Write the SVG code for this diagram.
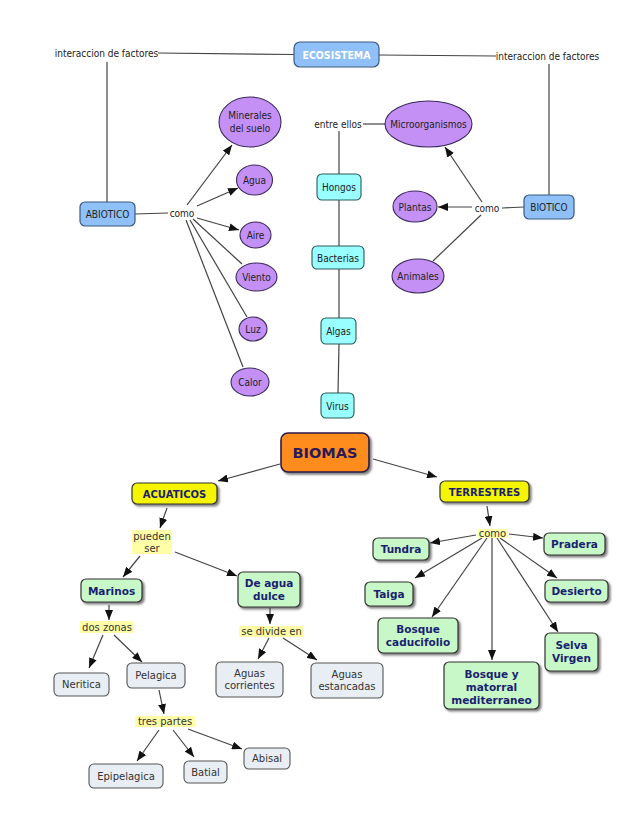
<svg xmlns="http://www.w3.org/2000/svg" width="638" height="826" viewBox="0 0 638 826">
<style>
.t{font-family:"DejaVu Sans Condensed","DejaVu Sans",sans-serif;font-size:10px;fill:#222;text-anchor:middle}
.tw{font-family:"DejaVu Sans Condensed","DejaVu Sans",sans-serif;font-size:10.5px;font-weight:bold;fill:#fff;text-anchor:middle}
.b{font-family:"DejaVu Sans",sans-serif;font-size:10.5px;font-weight:bold;fill:#1a1f70;text-anchor:middle}
.n{font-family:"DejaVu Sans",sans-serif;font-size:10px;fill:#333;text-anchor:middle}
.blue{fill:#8fc0f8;stroke:#3a5a80;stroke-width:1.2}
.pur{fill:#c490f5;stroke:#3a2a5a;stroke-width:1.1}
.cyan{fill:#99ffff;stroke:#2a5a5a;stroke-width:1.1}
.org{fill:#ff8c1a;stroke:#2a1a4a;stroke-width:1.6}
.yel{fill:#f5f500;stroke:#333;stroke-width:1.2}
.grn{fill:#c8f7c8;stroke:#333;stroke-width:1.2}
.gry{fill:#e8eef4;stroke:#555;stroke-width:1.1}
.hl{fill:#ffffa8}
.c line{stroke:#444;stroke-width:1.2;fill:none}
.c line.a{marker-end:url(#ah)}
</style>
<defs>
<marker id="ah" markerWidth="10" markerHeight="8" refX="10" refY="4" orient="auto" markerUnits="userSpaceOnUse">
<path d="M0,0 L10,4 L0,8 z" fill="#111"/>
</marker>
<filter id="sh" x="-10%" y="-10%" width="130%" height="140%">
<feDropShadow dx="2" dy="2" stdDeviation="0.8" flood-color="#444" flood-opacity="0.7"/>
</filter>
</defs>
<rect width="638" height="826" fill="#fff"/>

<g class="c" id="connectors">
<line x1="158" y1="53" x2="294" y2="54.5"/>
<line x1="379" y1="55" x2="496" y2="56"/>
<line x1="107" y1="62" x2="107" y2="202"/>
<line x1="549" y1="64" x2="549" y2="195"/>
<line x1="135" y1="214" x2="168" y2="213"/>
<line class="a" x1="187" y1="205" x2="232" y2="145"/>
<line class="a" x1="197" y1="206" x2="238" y2="188"/>
<line class="a" x1="197" y1="218" x2="239" y2="230"/>
<line x1="193" y1="219" x2="242" y2="264"/>
<line x1="190" y1="220" x2="247" y2="317"/>
<line x1="186" y1="220" x2="243" y2="367"/>
<line x1="524" y1="207" x2="502" y2="208"/>
<line class="a" x1="472" y1="207" x2="438" y2="207"/>
<line class="a" x1="482" y1="202" x2="445" y2="147"/>
<line x1="481" y1="215" x2="433" y2="261"/>
<line x1="363" y1="124" x2="385" y2="124"/>
<line x1="339" y1="131" x2="339" y2="174"/>
<line x1="339" y1="200" x2="339" y2="246"/>
<line x1="339" y1="269" x2="339" y2="318"/>
<line x1="339" y1="344" x2="338" y2="393"/>

<line class="a" x1="280" y1="464" x2="218" y2="481"/>
<line class="a" x1="373" y1="459" x2="437" y2="477"/>
<line class="a" x1="167" y1="508" x2="160" y2="528"/>
<line class="a" x1="487" y1="506" x2="490" y2="526"/>
<line class="a" x1="140" y1="556" x2="123" y2="577"/>
<line class="a" x1="175" y1="552" x2="237" y2="576"/>
<line class="a" x1="109" y1="605" x2="109" y2="620"/>
<line class="a" x1="270" y1="608" x2="270" y2="624"/>
<line class="a" x1="103" y1="635" x2="89" y2="668"/>
<line class="a" x1="114" y1="635" x2="142" y2="662"/>
<line class="a" x1="269" y1="638" x2="258" y2="659"/>
<line class="a" x1="283" y1="638" x2="317" y2="660"/>
<line class="a" x1="159" y1="690" x2="164" y2="714"/>
<line class="a" x1="159" y1="730" x2="137" y2="761"/>
<line class="a" x1="173" y1="730" x2="194" y2="757"/>
<line class="a" x1="188" y1="729" x2="242" y2="749"/>
<line class="a" x1="476" y1="535" x2="430" y2="543"/>
<line class="a" x1="509" y1="534" x2="543" y2="538"/>
<line class="a" x1="482" y1="538" x2="415" y2="578"/>
<line class="a" x1="500" y1="538" x2="557" y2="578"/>
<line class="a" x1="487" y1="538" x2="432" y2="617"/>
<line class="a" x1="497" y1="538" x2="558" y2="632"/>
<line class="a" x1="492" y1="538" x2="492" y2="660"/>
</g>

<g id="lbl-interaccion-left"><text class="t" x="106.5" y="57">interaccion de factores</text></g>
<g id="lbl-interaccion-right"><text class="t" x="547.5" y="60">interaccion de factores</text></g>
<g id="ecosistema"><rect class="blue" x="294" y="42" width="85" height="25" rx="6"/><text class="tw" x="336.5" y="58.5">ECOSISTEMA</text></g>
<g id="abiotico"><rect class="blue" x="80" y="202" width="55" height="24" rx="5"/><text class="t" x="107.5" y="218">ABIOTICO</text></g>
<g id="lbl-como-left"><text class="t" x="182" y="217">como</text></g>
<g id="biotico"><rect class="blue" x="524" y="195" width="50" height="24" rx="5"/><text class="t" x="549" y="211">BIOTICO</text></g>
<g id="lbl-como-right"><text class="t" x="487" y="212">como</text></g>
<g id="minerales"><ellipse class="pur" cx="250" cy="122" rx="31" ry="25"/><text class="t" x="250" y="119">Minerales</text><text class="t" x="250" y="132">del suelo</text></g>
<g id="agua"><ellipse class="pur" cx="254.5" cy="180" rx="18" ry="15"/><text class="t" x="254.5" y="184">Agua</text></g>
<g id="aire"><ellipse class="pur" cx="255.5" cy="235" rx="15.5" ry="13"/><text class="t" x="255.5" y="239">Aire</text></g>
<g id="viento"><ellipse class="pur" cx="256.5" cy="277" rx="20.5" ry="14"/><text class="t" x="256.5" y="281">Viento</text></g>
<g id="luz"><ellipse class="pur" cx="253" cy="329" rx="14" ry="12"/><text class="t" x="253" y="333">Luz</text></g>
<g id="calor"><ellipse class="pur" cx="250" cy="382" rx="19" ry="14"/><text class="t" x="250" y="386">Calor</text></g>
<g id="lbl-entre-ellos"><text class="t" x="338" y="128">entre ellos</text></g>
<g id="microorganismos"><ellipse class="pur" cx="428.5" cy="124" rx="43.5" ry="23"/><text class="t" x="428.5" y="128">Microorganismos</text></g>
<g id="plantas"><ellipse class="pur" cx="415" cy="206.5" rx="22" ry="15.5"/><text class="t" x="415" y="210.5">Plantas</text></g>
<g id="animales"><ellipse class="pur" cx="418" cy="276" rx="26" ry="17"/><text class="t" x="418" y="280">Animales</text></g>
<g id="hongos"><rect class="cyan" x="317" y="174" width="44" height="26" rx="5"/><text class="t" x="339" y="191">Hongos</text></g>
<g id="bacterias"><rect class="cyan" x="312" y="246" width="52" height="23" rx="5"/><text class="t" x="338" y="261.5">Bacterias</text></g>
<g id="algas"><rect class="cyan" x="321" y="318" width="35" height="26" rx="5"/><text class="t" x="338.5" y="335">Algas</text></g>
<g id="virus"><rect class="cyan" x="321" y="393" width="33" height="25" rx="5"/><text class="t" x="337.5" y="409.5">Virus</text></g>

<g id="biomas"><rect class="org" x="281" y="433" width="88" height="39" rx="7" filter="url(#sh)"/><text class="b" x="325" y="458" style="font-size:14.5px;fill:#2a1a5a">BIOMAS</text></g>
<g id="acuaticos"><rect class="yel" x="132" y="483" width="85" height="21" rx="5" filter="url(#sh)"/><text class="b" x="174.5" y="497.5" style="font-size:10px">ACUATICOS</text></g>
<g id="terrestres"><rect class="yel" x="440" y="481" width="89" height="21" rx="5" filter="url(#sh)"/><text class="b" x="484.5" y="495.5" style="font-size:10px">TERRESTRES</text></g>
<g id="lbl-pueden-ser"><rect class="hl" x="132" y="530" width="40" height="24"/><text class="n" x="152" y="540" style="fill:#333">pueden</text><text class="n" x="152" y="552">ser</text></g>
<g id="marinos"><rect class="grn" x="81" y="579" width="61" height="23" rx="5" filter="url(#sh)"/><text class="b" x="111.5" y="594.5">Marinos</text></g>
<g id="de-agua-dulce"><rect class="grn" x="238" y="572" width="62" height="35" rx="5" filter="url(#sh)"/><text class="b" x="269" y="587">De agua</text><text class="b" x="269" y="600">dulce</text></g>
<g id="lbl-dos-zonas"><rect class="hl" x="80" y="621" width="54" height="12"/><text class="n" x="107" y="630.5">dos zonas</text></g>
<g id="lbl-se-divide-en"><rect class="hl" x="239" y="626" width="65" height="11"/><text class="n" x="271.5" y="635">se divide en</text></g>
<g id="neritica"><rect class="gry" x="54" y="673" width="55" height="23" rx="5"/><text class="n" x="81.5" y="688">Neritica</text></g>
<g id="pelagica"><rect class="gry" x="127" y="663" width="58" height="25" rx="5"/><text class="n" x="156" y="679">Pelagica</text></g>
<g id="aguas-corrientes"><rect class="gry" x="216" y="662" width="67" height="35" rx="5"/><text class="n" x="249.5" y="677">Aguas</text><text class="n" x="249.5" y="689">corrientes</text></g>
<g id="aguas-estancadas"><rect class="gry" x="311" y="663" width="72" height="35" rx="5"/><text class="n" x="347" y="678">Aguas</text><text class="n" x="347" y="690">estancadas</text></g>
<g id="lbl-tres-partes"><rect class="hl" x="135" y="716" width="60" height="11"/><text class="n" x="165" y="725">tres partes</text></g>
<g id="epipelagica"><rect class="gry" x="89" y="764" width="74" height="24" rx="5"/><text class="n" x="126" y="780">Epipelagica</text></g>
<g id="batial"><rect class="gry" x="184" y="761" width="43" height="22" rx="5"/><text class="n" x="205.5" y="776">Batial</text></g>
<g id="abisal"><rect class="gry" x="244" y="748" width="46" height="21" rx="5"/><text class="n" x="267" y="762">Abisal</text></g>
<g id="lbl-como-terr"><rect class="hl" x="477" y="529" width="31" height="9"/><text class="n" x="492.5" y="537">como</text></g>
<g id="tundra"><rect class="grn" x="373" y="538" width="56" height="22" rx="5" filter="url(#sh)"/><text class="b" x="401" y="553">Tundra</text></g>
<g id="pradera"><rect class="grn" x="544" y="533" width="61" height="22" rx="5" filter="url(#sh)"/><text class="b" x="574.5" y="548">Pradera</text></g>
<g id="taiga"><rect class="grn" x="365" y="582" width="48" height="24" rx="5" filter="url(#sh)"/><text class="b" x="389" y="598">Taiga</text></g>
<g id="desierto"><rect class="grn" x="545" y="580" width="63" height="22" rx="5" filter="url(#sh)"/><text class="b" x="576.5" y="595">Desierto</text></g>
<g id="bosque-caducifolio"><rect class="grn" x="378" y="618" width="80" height="35" rx="5" filter="url(#sh)"/><text class="b" x="418" y="633">Bosque</text><text class="b" x="418" y="646">caducifolio</text></g>
<g id="selva-virgen"><rect class="grn" x="545" y="633" width="53" height="38" rx="5" filter="url(#sh)"/><text class="b" x="571.5" y="649">Selva</text><text class="b" x="571.5" y="662">Virgen</text></g>
<g id="bosque-matorral"><rect class="grn" x="444" y="662" width="95" height="47" rx="5" filter="url(#sh)"/><text class="b" x="491.5" y="678">Bosque y</text><text class="b" x="491.5" y="691">matorral</text><text class="b" x="491.5" y="704">mediterraneo</text></g>
</svg>
